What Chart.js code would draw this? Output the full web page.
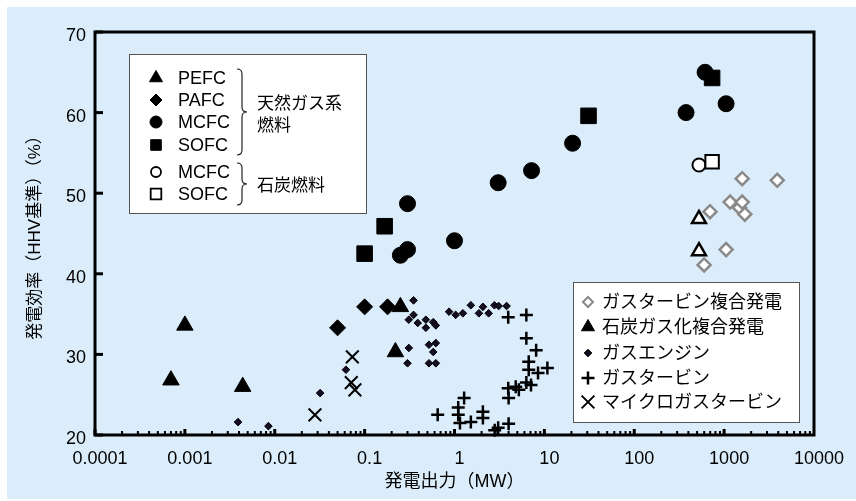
<!DOCTYPE html>
<html>
<head>
<meta charset="utf-8">
<script src="https://cdn.jsdelivr.net/npm/chart.js@4/dist/chart.umd.min.js"></script>
<style>
  html, body { margin: 0; padding: 0; background: #fff; }
  #wrap { width: 856px; height: 501px; }
</style>
</head>
<body>
<div id="wrap"><canvas id="chart" width="856" height="501"></canvas></div>
<script>
// tick values
const xTickValues = [0.0001, 0.001, 0.01, 0.1, 1, 10, 100, 1000, 10000];
const yTickValues = [20, 30, 40, 50, 60, 70];

// [output MW, efficiency %]
const pefc = [[0.0007, 26.8], [0.001, 33.6], [0.0044, 26.0], [0.22, 30.3], [0.25, 35.9]];
const pafc = [[0.05, 33.3], [0.1, 35.9], [0.18, 35.9]];
const mcfc = [[0.25, 42.3], [0.3, 43.0], [0.3, 48.7], [1.0, 44.1], [3.06, 51.3], [7.2, 52.8],
  [20.6, 56.2], [377, 60.0], [614, 65.0], [1052, 61.1]];
const sofc = [[0.1, 42.5], [0.167, 45.9], [31, 59.6], [735, 64.3]];
const coalMcfc = [[525, 53.5]];
const coalSofc = [[735, 53.9]];
const gtcc = [[599, 41.1], [697, 47.7], [1052, 43.0], [1166, 48.9], [1480, 48.2], [1589, 48.9],
  [1700, 47.4], [1589, 51.8], [3900, 51.6]];
const igcc = [[525, 46.8], [525, 42.8]];
const gasEngine = [[0.0039, 21.6], [0.0085, 21.1], [0.032, 25.2], [0.062, 28.1],
  [0.35, 36.7], [0.35, 34.9], [0.31, 34.3], [0.39, 33.9], [0.48, 34.3], [0.58, 34.0], [0.48, 33.3],
  [0.62, 33.6], [0.87, 35.3], [1.03, 34.9], [1.24, 35.1], [1.52, 36.1], [1.87, 35.1], [2.07, 35.9],
  [2.4, 35.1], [2.78, 36.1], [3.1, 36.0], [3.8, 36.0],
  [0.31, 30.8], [0.3, 28.9], [0.52, 31.2], [0.62, 31.4], [0.58, 30.3], [0.52, 28.9], [0.62, 28.9]];
const gasTurbine = [[0.65, 22.5], [1.1, 23.4], [1.1, 22.5], [1.15, 21.5], [1.28, 24.6], [1.52, 21.6],
  [2.07, 22.9], [2.07, 22.1], [2.8, 20.6], [3.06, 20.9], [4.0, 21.4], [4.0, 24.6], [3.96, 25.8],
  [4.8, 26.0], [5.2, 25.6], [6.3, 26.5], [7.1, 26.2], [6.7, 29.1], [6.7, 28.1], [8.5, 27.7],
  [10.8, 28.3], [8.1, 30.5], [6.3, 32.0], [3.96, 34.6], [6.3, 34.9]];
const microGT = [[0.028, 22.5], [0.071, 26.5], [0.073, 29.7], [0.078, 25.6]];

const fuelCellLabels = ['PEFC', 'PAFC', 'MCFC', 'SOFC', 'MCFC', 'SOFC'];
const fuelGroupLabels = ['天然ガス系', '燃料', '石炭燃料'];
const plantLabels = ['ガスタービン複合発電', '石炭ガス化複合発電', 'ガスエンジン', 'ガスタービン', 'マイクロガスタービン'];

const BG = '#dbedfb';
const FONT = '"Liberation Sans", "Noto Sans CJK JP", sans-serif';
const GRAY = '#8a8a8a';

const S = {
  pefc:      { ps: 'triangle', r: 9.5, bg: '#000', bc: '#000', bw: 1 },
  pafc:      { ps: 'rectRot', r: 8, bg: '#000', bc: '#000', bw: 1 },
  mcfc:      { ps: 'circle', r: 8, bg: '#000', bc: '#000', bw: 1 },
  sofc:      { ps: 'rect', r: 11, bg: '#000', bc: '#000', bw: 1 },
  coalMcfc:  { ps: 'circle', r: 6.5, bg: '#fff', bc: '#000', bw: 2 },
  coalSofc:  { ps: 'rect', r: 9.5, bg: '#fff', bc: '#000', bw: 2 },
  gtcc:      { ps: 'rectRot', r: 6.5, bg: '#fff', bc: GRAY, bw: 2.5 },
  igcc:      { ps: 'triangle', r: 8, bg: '#fff', bc: '#000', bw: 2.5 },
  gasEngine: { ps: 'rectRot', r: 3.8, bg: '#140c20', bc: '#000', bw: 1 },
  gasTurb:   { ps: 'cross', r: 6.5, bg: '#000', bc: '#000', bw: 2.5 },
  microGT:   { ps: 'crossRot', r: 9, bg: '#000', bc: '#000', bw: 2 }
};

function ds(label, pts, st) {
  return {
    label,
    data: pts.map(p => ({ x: p[0], y: p[1] })),
    pointStyle: st.ps,
    pointRadius: st.r,
    pointBackgroundColor: st.bg,
    pointBorderColor: st.bc,
    pointBorderWidth: st.bw,
    showLine: false,
    clip: false
  };
}

function mark(ctx, st, r, x, y) {
  ctx.save();
  ctx.fillStyle = st.bg;
  ctx.strokeStyle = st.bc;
  ctx.lineWidth = st.bw;
  Chart.helpers.drawPoint(ctx, { pointStyle: st.ps, radius: r, borderWidth: st.bw, rotation: 0 }, x, y);
  ctx.restore();
}

function brace(ctx, x, y0, y1, w) {
  const ym = (y0 + y1) / 2, h = w / 2, q = 5;
  ctx.beginPath();
  ctx.moveTo(x, y0);
  ctx.quadraticCurveTo(x + h, y0, x + h, y0 + q);
  ctx.lineTo(x + h, ym - q);
  ctx.quadraticCurveTo(x + h, ym, x + w, ym);
  ctx.quadraticCurveTo(x + h, ym, x + h, ym + q);
  ctx.lineTo(x + h, y1 - q);
  ctx.quadraticCurveTo(x + h, y1, x, y1);
  ctx.stroke();
}

const frame = {
  id: 'frame',
  beforeDraw(chart) {
    const ctx = chart.ctx;
    ctx.save();
    ctx.fillStyle = '#fff';
    ctx.fillRect(0, 0, chart.width, chart.height);
    ctx.fillStyle = BG;
    ctx.fillRect(7, 7, chart.width - 7, chart.height - 9);
    ctx.restore();
  },
  afterDatasetsDraw(chart) {
    const { ctx, chartArea: a, scales: { x, y } } = chart;
    ctx.save();
    ctx.fillStyle = '#000';
    for (let e = -4; e < 4; e++) {
      const d = Math.pow(10, e);
      for (let k = 2; k <= 9; k++) {
        const px = x.getPixelForValue(d * k);
        ctx.fillRect(px - 1, a.bottom - 4, 2, 4);
      }
      const px = x.getPixelForValue(d);
      ctx.fillRect(px - 1.5, a.bottom - 6, 3, 6);
    }
    yTickValues.forEach(v => {
      const py = y.getPixelForValue(v);
      ctx.fillRect(a.left, py - 1.5, 8, 3);
    });
    ctx.lineWidth = 3;
    ctx.strokeStyle = '#000';
    ctx.strokeRect(a.left, a.top, a.right - a.left, a.bottom - a.top);
    ctx.restore();
  },
  afterDraw(chart) {
    const ctx = chart.ctx;
    ctx.save();
    ctx.fillStyle = '#fff';
    ctx.strokeStyle = '#555';
    ctx.lineWidth = 1;
    ctx.fillRect(129, 54, 237, 159);
    ctx.strokeRect(129.5, 54.5, 237, 159);
    ctx.fillRect(573, 282, 226, 140);
    ctx.strokeRect(573.5, 282.5, 226, 140);

    // fuel cell legend
    const st1 = [S.pefc, S.pafc, S.mcfc, S.sofc, S.coalMcfc, S.coalSofc];
    const r1 = [7.5, 6, 6, 7.5, 5, 7.5];
    const rows1 = [78, 100, 122, 145, 172, 194];
    ctx.fillStyle = '#000';
    ctx.font = '18px ' + FONT;
    ctx.textBaseline = 'middle';
    ctx.textAlign = 'left';
    rows1.forEach((ry, i) => {
      const st = Object.assign({}, st1[i], { bw: st1[i].bg === '#fff' ? 1.8 : 1 });
      mark(ctx, st, r1[i], 156, ry);
      ctx.fillStyle = '#000';
      ctx.fillText(fuelCellLabels[i], 178, ry + 1);
    });
    ctx.font = '17px ' + FONT;
    ctx.fillText(fuelGroupLabels[0], 257, 104);
    ctx.fillText(fuelGroupLabels[1], 257, 126);
    ctx.fillText(fuelGroupLabels[2], 257, 186);
    ctx.strokeStyle = '#222';
    ctx.lineWidth = 1.2;
    brace(ctx, 237, 69, 155, 10);
    brace(ctx, 237, 163, 205, 10);

    // plant legend
    const st2 = [S.gtcc, Object.assign({}, S.igcc, { bg: '#000', bw: 1 }), S.gasEngine, S.gasTurb, S.microGT];
    const r2 = [5, 7.5, 3.8, 6.5, 9];
    const rows2 = [302, 327, 353, 378, 402];
    ctx.font = '18px ' + FONT;
    rows2.forEach((ry, i) => {
      const st = i === 0 ? Object.assign({}, st2[0], { bw: 2 }) : st2[i];
      mark(ctx, st, r2[i], 588, ry);
      ctx.fillStyle = '#000';
      ctx.fillText(plantLabels[i], 602, ry + 1);
    });
    ctx.restore();
  }
};

Chart.defaults.font.family = FONT;
Chart.defaults.color = '#000';

new Chart(document.getElementById('chart'), {
  type: 'scatter',
  data: {
    datasets: [
      ds('SOFC (石炭)', coalSofc, S.coalSofc),
      ds('MCFC (石炭)', coalMcfc, S.coalMcfc),
      ds('SOFC', sofc, S.sofc),
      ds('MCFC', mcfc, S.mcfc),
      ds('PEFC', pefc, S.pefc),
      ds('PAFC', pafc, S.pafc),
      ds('ガスタービン複合発電', gtcc, S.gtcc),
      ds('石炭ガス化複合発電', igcc, S.igcc),
      ds('ガスエンジン', gasEngine, S.gasEngine),
      ds('ガスタービン', gasTurbine, S.gasTurb),
      ds('マイクロガスタービン', microGT, S.microGT)
    ]
  },
  options: {
    responsive: false,
    animation: false,
    events: [],
    layout: { padding: { left: 0, top: 32, right: 42, bottom: 0 } },
    plugins: { legend: { display: false }, tooltip: { enabled: false } },
    scales: {
      x: {
        type: 'logarithmic',
        min: 0.0001,
        max: 10000,
        afterBuildTicks(scale) { scale.ticks = xTickValues.map(v => ({ value: v })); },
        afterFit(scale) { scale.height = 66; },
        ticks: { callback: v => String(v), font: { size: 18 }, color: '#000', padding: 13,
          maxRotation: 0, autoSkip: false, labelOffset: 5 },
        grid: { display: false, drawTicks: false },
        border: { display: false },
        title: { display: true, text: '発電出力（MW）', font: { size: 18 }, color: '#000',
          padding: { top: 0, bottom: 8 } }
      },
      y: {
        type: 'linear',
        min: 20,
        max: 70,
        afterBuildTicks(scale) { scale.ticks = yTickValues.map(v => ({ value: v })); },
        afterFit(scale) { scale.width = 95; },
        ticks: { font: { size: 18 }, color: '#000', padding: 9, labelOffset: 4 },
        grid: { display: false, drawTicks: false },
        border: { display: false },
        title: { display: true, text: '発電効率（HHV基準）（%）', font: { size: 17 }, color: '#000',
          padding: { top: 25, bottom: 0 } }
      }
    }
  },
  plugins: [frame]
});
</script>
</body>
</html>
